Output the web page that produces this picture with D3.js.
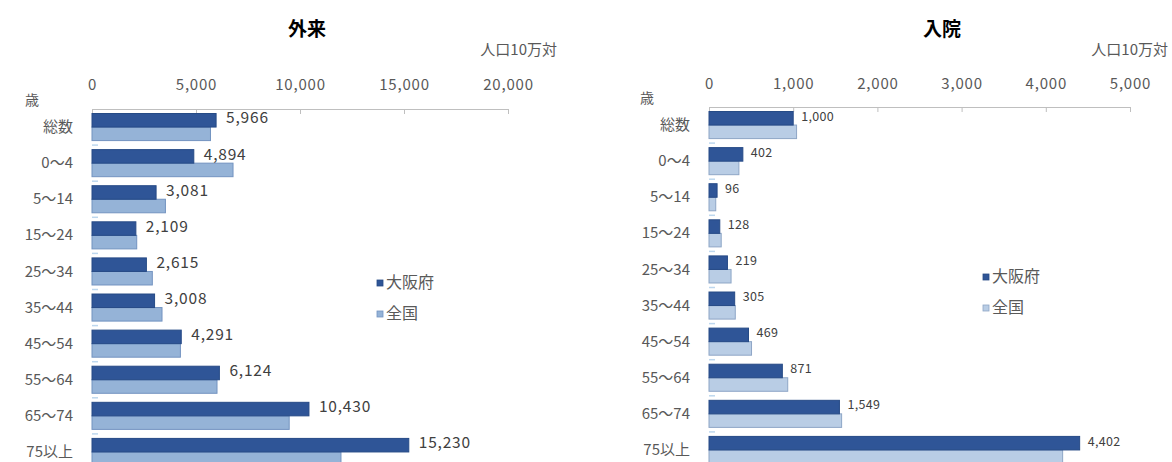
<!DOCTYPE html>
<html><head><meta charset="utf-8">
<script src="https://cdn.jsdelivr.net/npm/d3@7"></script>
<style>
html,body{margin:0;padding:0;background:#fff;}
svg{display:block;}
text{font-family:"Noto Sans CJK JP","Noto Sans",sans-serif;}
</style></head>
<body>
<svg id="chart" width="1172" height="462"></svg>
<script>
const categories = ["総数","0～4","5～14","15～24","25～34","35～44","45～54","55～64","65～74","75以上"];
const seriesNames = ["大阪府","全国"];
const outpatientOsaka = [5966,4894,3081,2109,2615,3008,4291,6124,10430,15230];
const outpatientNational = [5696,6780,3530,2150,2900,3366,4250,6010,9480,11970];
const inpatientOsaka = [1000,402,96,128,219,305,469,871,1549,4402];
const inpatientNational = [1040,355,80,145,262,312,505,935,1575,4200];
const outpatientTicks = [0,5000,10000,15000,20000];
const inpatientTicks = [0,1000,2000,3000,4000,5000];

const svg = d3.select("#chart");
const fmt = d3.format(",");
const textColor = "#595959";

function panel(cfg){
  const g = svg.append("g");
  const x = d3.scaleLinear().domain([0, cfg.ticks[cfg.ticks.length-1]]).range([cfg.x0, cfg.x1]);
  const y = d3.scaleBand().domain(categories).range([cfg.axisY, cfg.axisY + 361]).paddingInner(0.25).paddingOuter(0.125);
  const ys = d3.scaleBand().domain(seriesNames).range([0, y.bandwidth()]);

  g.append("text").attr("x", cfg.titleX).attr("y", 31).attr("text-anchor","middle")
    .attr("dominant-baseline","middle").attr("font-size",19).attr("font-weight","bold").attr("fill","#000").text(cfg.title);
  g.append("text").attr("x", cfg.unitX).attr("y", 51).attr("text-anchor","end")
    .attr("dominant-baseline","middle").attr("font-size",15).attr("fill",textColor).text("人口10万対");
  g.append("text").attr("x", cfg.saiX).attr("y", cfg.axisY - 8).attr("text-anchor","middle")
    .attr("dominant-baseline","middle").attr("font-size",14).attr("fill",textColor).text("歳");

  const axis = d3.axisTop(x).tickValues(cfg.ticks).tickFormat(fmt).tickSizeInner(-5).tickSizeOuter(0).tickPadding(0);
  const ag = g.append("g").attr("transform", `translate(0,${cfg.axisY})`).call(axis);
  ag.select(".domain").attr("stroke","#bfbfbf");
  ag.selectAll(".tick line").attr("stroke","#bfbfbf");
  ag.selectAll(".tick text").attr("y", cfg.tickLabelY - cfg.axisY).attr("dy","0.35em")
    .attr("font-size",15).attr("letter-spacing","0.8px").attr("fill",textColor)
    .attr("font-family","'Open Sans','Noto Sans',sans-serif");

  const bounds = categories.slice(1).map(c => y(c) - y.step()*y.paddingInner()/2);
  g.selectAll(".ctick").data(bounds).join("line")
    .attr("x1", cfg.x0).attr("x2", cfg.x0 + 6).attr("y1", d=>d).attr("y2", d=>d)
    .attr("stroke","#bdd7ee").attr("stroke-width",1.5);

  g.selectAll(".clab").data(categories).join("text")
    .attr("x", cfg.catX).attr("y", d => y(d) + y.bandwidth()/2 + 1).attr("text-anchor","end")
    .attr("dominant-baseline","middle").attr("font-size",15).attr("fill",textColor).text(d=>d);

  const rows = categories.map((c,i)=>({c, a: cfg.a[i], b: cfg.b[i]}));
  g.selectAll(".bn").data(rows).join("rect")
    .attr("x", x(0)).attr("y", d => y(d.c) + ys("全国"))
    .attr("width", d => x(d.b) - x(0)).attr("height", ys.bandwidth())
    .attr("fill", cfg.lightFill).attr("stroke", cfg.lightStroke).attr("stroke-width",1);
  g.selectAll(".bo").data(rows).join("rect")
    .attr("x", x(0)).attr("y", d => y(d.c) + ys("大阪府"))
    .attr("width", d => x(d.a) - x(0)).attr("height", ys.bandwidth())
    .attr("fill", "#2f5597").attr("stroke","#264a86").attr("stroke-width",1);
  g.selectAll(".vl").data(rows).join("text")
    .attr("x", d => x(d.a) + cfg.labelOffset).attr("y", d => y(d.c) + ys("大阪府") + ys.bandwidth()/2 - 1)
    .attr("dominant-baseline","middle").attr("font-size", cfg.labelSize).attr("letter-spacing", cfg.labelSpacing)
    .attr("font-family","'Open Sans','Noto Sans',sans-serif")
    .attr("fill", "#404040").text(d => fmt(d.a));

  const leg = g.append("g");
  const colors = [["#2f5597","#264a86"],[cfg.lightFill,cfg.lightStroke]];
  seriesNames.forEach((s,i)=>{
    const yy = cfg.legY + i*31;
    leg.append("rect").attr("x", cfg.legX).attr("y", yy-3).attr("width",6).attr("height",6)
      .attr("fill",colors[i][0]).attr("stroke",colors[i][1]).attr("stroke-width",0.8);
    leg.append("text").attr("x", cfg.legX + 9).attr("y", yy+1).attr("dominant-baseline","middle")
      .attr("font-size",16).attr("fill",textColor).text(s);
  });
}

panel({title:"外来", titleX:307, unitX:557, saiX:32, x0:92, x1:508, axisY:109, tickLabelY:85,
  ticks:outpatientTicks, a:outpatientOsaka, b:outpatientNational, catX:73,
  lightFill:"#95b3d7", lightStroke:"#7393c0", labelOffset:10, labelSize:15.5, labelSpacing:"0.8px",
  legX:377, legY:283});
panel({title:"入院", titleX:942, unitX:1168, saiX:647, x0:709, x1:1130, axisY:107, tickLabelY:84,
  ticks:inpatientTicks, a:inpatientOsaka, b:inpatientNational, catX:690,
  lightFill:"#b9cde5", lightStroke:"#8ea6c6", labelOffset:8, labelSize:12.5, labelSpacing:"0.3px",
  legX:983, legY:277});
</script>
</body></html>
